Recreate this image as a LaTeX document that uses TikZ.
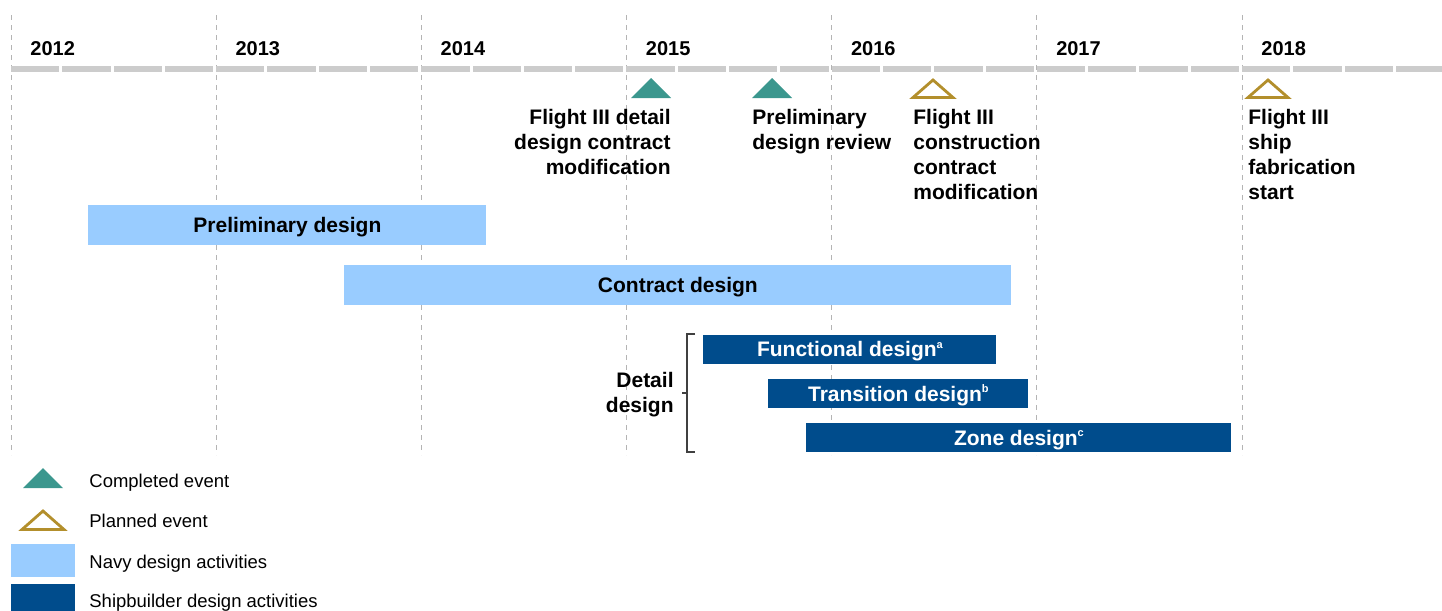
\documentclass[tikz,border=0pt]{standalone}
\usepackage{fontspec}
\setmainfont{Liberation Sans}
\definecolor{gridgray}{HTML}{B4B4B4}
\definecolor{timegray}{HTML}{CCCCCC}
\definecolor{navyblue}{HTML}{99CCFF}
\definecolor{shipblue}{HTML}{004C8C}
\definecolor{doneteal}{HTML}{3B978E}
\definecolor{plangold}{HTML}{B38F2C}
\definecolor{brackgray}{HTML}{404040}
\newcommand{\supnote}[1]{\raisebox{4.3pt}{\fontsize{5.5}{6}\selectfont #1}}
\begin{document}
\begin{tikzpicture}[x=0.5pt,y=-0.5pt,
  yearline/.style={draw=gridgray, line width=0.5pt, dash pattern=on 2.5pt off 2.5pt},
  yearlbl/.style={font=\bfseries\fontsize{10}{12}\selectfont, anchor=base west, inner sep=0},
  evlbl/.style={font=\bfseries\fontsize{10.5}{12.5}\selectfont, inner sep=0},
  navybar/.style={fill=navyblue, draw=none, anchor=north west, inner sep=0,
    font=\bfseries\fontsize{10.5}{12.5}\selectfont, text=black,
    text height=7.5pt, text depth=0pt},
  shipbar/.style={fill=shipblue, draw=none, anchor=north west, inner sep=0,
    font=\bfseries\fontsize{10.5}{12.5}\selectfont, text=white, minimum height=14.5pt,
    text height=7.5pt, text depth=0pt},
  legtext/.style={font=\fontsize{9.25}{11}\selectfont, anchor=base west, inner sep=0},
  done/.style={fill=doneteal},
  planned/.style={draw=plangold, line width=1.4pt, line join=miter},
  bracket/.style={draw=brackgray, line width=0.7pt},
]
\useasboundingbox (0,0) rectangle (1442,611);
% year grid lines and labels
\foreach \yr [count=\i from 0] in {2012,2013,2014,2015,2016,2017,2018} {
  \pgfmathsetmacro\xx{11+\i*205.17}
  \draw[yearline] (\xx,15) -- (\xx,455);
  \node[yearlbl] (y\yr) at (\xx+19,55) {\yr};
}
% timeline quarters
\foreach \q in {0,...,27} {
  \fill[timegray] ({11+\q*51.29},66) rectangle ({11+\q*51.29+48.3},71.5);
}
% events
\fill[done] (631,98) -- (651,78) -- (671,98) -- cycle;
\fill[done] (752,98) -- (772,78) -- (792,98) -- cycle;
\draw[planned] (913,97.5) -- (933,80) -- (953,97.5) -- cycle;
\draw[planned] (1248,97.5) -- (1268,80) -- (1288,97.5) -- cycle;
\node[evlbl, align=right, anchor=north east] (ev1) at (671,109) {Flight III detail\\design contract\\modification};
\node[evlbl, align=left, anchor=north west] (ev2) at (752,109) {Preliminary\\design review};
\node[evlbl, align=left, anchor=north west] (ev3) at (913,109) {Flight III\\construction\\contract\\modification};
\node[evlbl, align=left, anchor=north west] (ev4) at (1248,109) {Flight III\\ship\\fabrication\\start};
% bars
\node[navybar, minimum width=199pt, minimum height=20pt] (prelim) at (88,205) {Preliminary design};
\node[navybar, minimum width=333.5pt, minimum height=20pt] (contract) at (344,265) {Contract design};
\node[shipbar, minimum width=146.5pt] (func) at (703,334.5) {Functional design\supnote{a}};
\node[shipbar, minimum width=130pt] (trans) at (768,379) {Transition design\supnote{b}};
\node[shipbar, minimum width=212.5pt] (zone) at (806,423) {Zone design\supnote{c}};
% detail design bracket
\coordinate (bt) at (695,334);
\coordinate (bb) at (695,452);
\coordinate (bm) at (687,393);
\coordinate (bl) at (682,393);
\draw[bracket] (bt) -- (687,334) -- (687,452) -- (bb);
\draw[bracket] (bm) -- (bl);
\node[evlbl, align=right, anchor=north east] (detail) at (674,371.5) {Detail\\design};
% legend
\fill[done] (23,488) -- (43,468) -- (63,488) -- cycle;
\node[legtext] (lg1) at (89,487) {Completed event};
\draw[planned] (22,529.5) -- (43,511) -- (64,529.5) -- cycle;
\node[legtext] (lg2) at (89,527) {Planned event};
\fill[navyblue] (11,544) rectangle (75,577);
\node[legtext] (lg3) at (89,568) {Navy design activities};
\fill[shipblue] (11,584) rectangle (75,611);
\node[legtext] (lg4) at (89,607) {Shipbuilder design activities};
\end{tikzpicture}
\end{document}
